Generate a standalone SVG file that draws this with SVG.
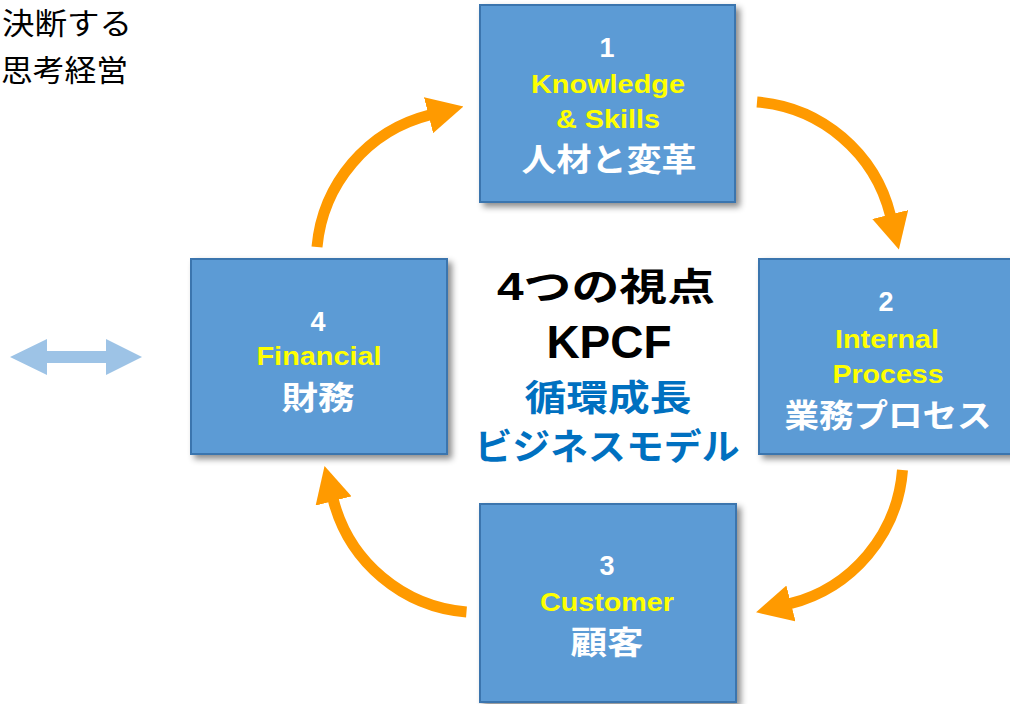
<svg xmlns="http://www.w3.org/2000/svg" width="1010" height="704" viewBox="0 0 1010 704">
<style>
.box{fill:#5B9BD5;stroke:#3B74AE;stroke-width:2;filter:url(#sh)}
.t{font-family:"Liberation Sans","Noto Sans CJK JP",sans-serif;font-weight:bold;text-anchor:middle}
.num{font-size:27px;fill:#FFFFFF}
.en{font-size:26px;fill:#FFFF00}
.jp{font-size:32px;fill:#FFFFFF}
.ctr{font-size:38px;fill:#000000}
.blue{font-size:36px;fill:#0070C0}
.note{font-family:"Noto Sans CJK JP",sans-serif;font-size:30px;fill:#000000}
.arc{fill:none;stroke:#FF9A00;stroke-width:11;marker-end:url(#ah)}
</style>
<defs>
<filter id="sh" x="-10%" y="-10%" width="130%" height="130%">
<feDropShadow dx="4" dy="4" stdDeviation="3" flood-color="#000" flood-opacity="0.45"/>
</filter>
<marker id="ah" markerUnits="userSpaceOnUse" markerWidth="36" markerHeight="37" viewBox="0 0 36 37" refX="1" refY="18.5" orient="auto">
<path d="M0,0 L36,18.5 L0,37 z" fill="#FF9A00"/>
</marker>
</defs>
<g id="note">
<text class="note" x="2" y="34" textLength="130" lengthAdjust="spacingAndGlyphs">決断する</text>
<text class="note" x="1" y="81" textLength="127" lengthAdjust="spacingAndGlyphs">思考経営</text>
</g>
<g id="double-arrow">
<polygon points="10,357 47,339 47,351 106,351 106,339 142,357 106,375 106,363 47,363 47,375" fill="#9DC3E6"/>
</g>
<g id="connectors">
<path class="arc" d="M317,247 A150,150 0 0,1 429.5,115"/>
<path class="arc" d="M757,102 A150,150 0 0,1 890.5,215.5"/>
<path class="arc" d="M902.5,470 A150,150 0 0,1 790,603.7"/>
<path class="arc" d="M466.5,612 A150,150 0 0,1 333.3,500"/>
</g>
<g id="node1">
<rect class="box" x="480" y="5" width="255" height="197"/>
<text class="t num" x="607" y="57">1</text>
<text class="t en" x="608" y="93" textLength="154" lengthAdjust="spacingAndGlyphs">Knowledge</text>
<text class="t en" x="608" y="128" textLength="104" lengthAdjust="spacingAndGlyphs">&amp; Skills</text>
<text class="t jp" x="609" y="171" textLength="175" lengthAdjust="spacingAndGlyphs">人材と変革</text>
</g>
<g id="node2">
<rect class="box" x="759" y="259" width="256" height="195"/>
<text class="t num" x="886" y="311">2</text>
<text class="t en" x="887" y="348" textLength="104" lengthAdjust="spacingAndGlyphs">Internal</text>
<text class="t en" x="888" y="383" textLength="111" lengthAdjust="spacingAndGlyphs">Process</text>
<text class="t jp" x="888" y="427" textLength="207" lengthAdjust="spacingAndGlyphs">業務プロセス</text>
</g>
<g id="node3">
<rect class="box" x="480" y="504" width="256" height="198"/>
<text class="t num" x="607" y="575">3</text>
<text class="t en" x="607" y="611" textLength="134" lengthAdjust="spacingAndGlyphs">Customer</text>
<text class="t jp" x="607" y="654" textLength="73" lengthAdjust="spacingAndGlyphs">顧客</text>
</g>
<g id="node4">
<rect class="box" x="191" y="259" width="256" height="195"/>
<text class="t num" x="318" y="331">4</text>
<text class="t en" x="319" y="365" textLength="125" lengthAdjust="spacingAndGlyphs">Financial</text>
<text class="t jp" x="318" y="409" textLength="73" lengthAdjust="spacingAndGlyphs">財務</text>
</g>
<g id="center">
<text class="t ctr" x="606" y="300" textLength="218" lengthAdjust="spacingAndGlyphs">4つの視点</text>
<text class="t" x="609" y="358" style="font-size:46px;fill:#000000">KPCF</text>
<text class="t blue" x="608" y="411" textLength="167" lengthAdjust="spacingAndGlyphs">循環成長</text>
<text class="t blue" x="607" y="460" textLength="265" lengthAdjust="spacingAndGlyphs">ビジネスモデル</text>
</g>
</svg>
